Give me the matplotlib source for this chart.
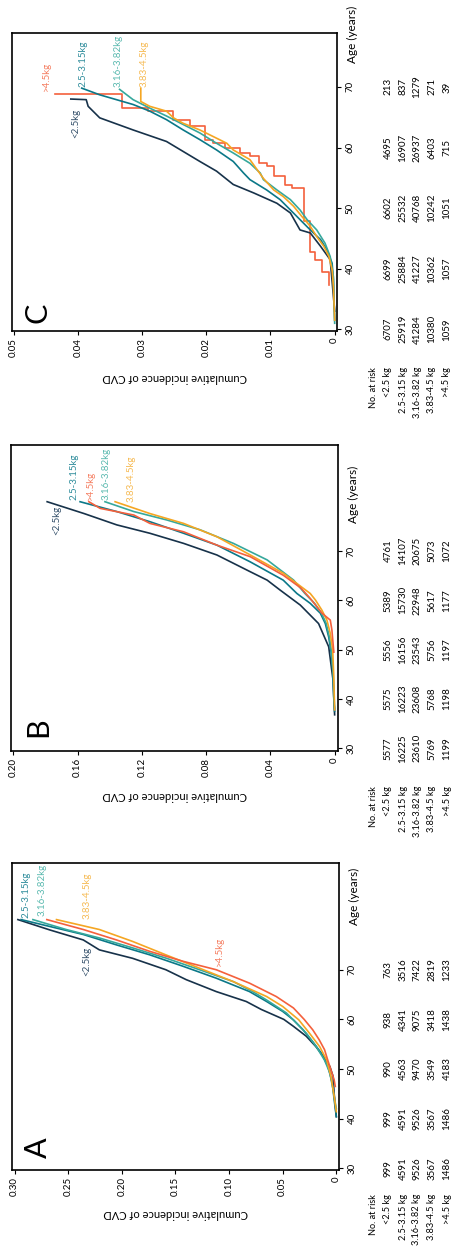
import matplotlib
matplotlib.use("Agg")
import matplotlib.pyplot as plt
from matplotlib.transforms import blended_transform_factory

plt.rcParams['font.family'] = ['Lato', 'DejaVu Sans']

# ---------------- data ----------------
groups = ["<2.5kg", "2.5-3.15kg", "3.16-3.82kg", "3.83-4.5kg", ">4.5kg"]
risk_labels = ["<2.5 kg", "2.5-3.15 kg", "3.16-3.82 kg", "3.83-4.5 kg", ">4.5 kg"]
risk_ages = [30, 40, 50, 60, 70]

# Panel A
A_lt25_age = [40.4, 45.0, 48.5, 50.5, 52.5, 54.5, 56.6, 58.6, 60.0, 62.0, 63.6, 65.6, 68.0, 70.0, 72.3, 74.0, 76.0, 78.0, 80.1]
A_lt25_inc = [0.0, 0.002, 0.003, 0.006, 0.012, 0.019, 0.028, 0.040, 0.049, 0.070, 0.084, 0.112, 0.140, 0.159, 0.190, 0.221, 0.236, 0.267, 0.297]
A_g1_age = [40.4, 43.8, 47.1, 50.5, 53.2, 55.5, 57.9, 59.9, 61.6, 63.6, 65.6, 68.3, 70.7, 73.0, 75.0, 77.1, 78.7, 80.1]
A_g1_inc = [0.0, 0.002, 0.0037, 0.0078, 0.014, 0.022, 0.031, 0.040, 0.050, 0.065, 0.081, 0.112, 0.143, 0.174, 0.205, 0.236, 0.267, 0.294]
A_g2_age = [42.0, 45.8, 49.2, 51.8, 54.5, 57.2, 59.2, 61.3, 63.9, 65.6, 67.6, 70.0, 72.35, 74.4, 76.4, 78.1, 80.1]
A_g2_inc = [0.0, 0.003, 0.006, 0.011, 0.0187, 0.028, 0.037, 0.0466, 0.065, 0.078, 0.096, 0.1275, 0.159, 0.190, 0.221, 0.252, 0.283]
A_g3_age = [41.4, 44.5, 48.5, 51.8, 54.5, 57.2, 59.9, 62.6, 64.6, 67.6, 70.3, 73.0, 75.7, 78.1, 80.1]
A_g3_inc = [0.0, 0.002, 0.005, 0.009, 0.0155, 0.025, 0.035, 0.050, 0.065, 0.096, 0.1275, 0.159, 0.190, 0.221, 0.261]
A_gt45_age = [46.5, 47.8, 49.8, 51.8, 53.9, 55.9, 57.9, 60.0, 62.3, 64.6, 67.3, 70.0, 71.7, 73.7, 76.0, 78.1, 80.1]
A_gt45_inc = [0.001, 0.002, 0.005, 0.008, 0.011, 0.016, 0.022, 0.030, 0.040, 0.056, 0.081, 0.112, 0.143, 0.174, 0.205, 0.236, 0.270]
A_risk = [[999, 999, 990, 938, 763],
          [4591, 4591, 4563, 4341, 3516],
          [9526, 9526, 9470, 9075, 7422],
          [3567, 3567, 3549, 3418, 2819],
          [1486, 1486, 4183, 1438, 1233]]

# Panel B
B_lt25_age = [36.8, 43.85, 50.6, 55.3, 59.05, 62.1, 64.1, 65.8, 69.2, 71.55, 73.6, 75.3, 77.6, 80.0]
B_lt25_inc = [0.0, 0.001, 0.0037, 0.010, 0.0214, 0.034, 0.042, 0.0525, 0.0733, 0.094, 0.115, 0.1356, 0.156, 0.179]
B_g1_age = [37.5, 40.5, 45.2, 49.3, 52.6, 55.3, 57.4, 59.4, 61.4, 64.1, 67.8, 71.2, 73.6, 75.95, 78.0, 80.0]
B_g1_inc = [0.0, 0.0006, 0.001, 0.0021, 0.0037, 0.0058, 0.0089, 0.0152, 0.0235, 0.032, 0.0525, 0.0733, 0.094, 0.115, 0.1356, 0.1585]
B_g2_age = [38.0, 41.8, 45.2, 49.3, 52.6, 55.3, 57.4, 59.4, 61.4, 64.1, 68.2, 71.55, 74.3, 76.3, 78.0, 80.0]
B_g2_inc = [0.0, 0.0005, 0.0009, 0.0019, 0.0033, 0.0052, 0.0082, 0.0125, 0.0185, 0.0255, 0.042, 0.063, 0.0837, 0.1045, 0.125, 0.143]
B_g3_age = [37.8, 45.2, 49.9, 53.3, 56.0, 58.0, 60.1, 61.4, 65.5, 69.2, 72.9, 75.6, 77.6, 80.0]
B_g3_inc = [0.0, 0.0006, 0.0012, 0.0027, 0.0048, 0.0079, 0.012, 0.0152, 0.032, 0.0525, 0.0733, 0.094, 0.115, 0.1367]
B_gt45_age = [49.5, 54.0, 56.0, 57.4, 60.4, 62.5, 65.1, 68.85, 71.2, 73.9, 75.6, 77.3, 78.65, 80.0]
B_gt45_inc = [0.0005, 0.0017, 0.0027, 0.0079, 0.0152, 0.021, 0.032, 0.0525, 0.0733, 0.094, 0.115, 0.125, 0.146, 0.153]
B_risk = [[5577, 5575, 5556, 5389, 4761],
          [16225, 16223, 16156, 15730, 14107],
          [23610, 23608, 23543, 22948, 20675],
          [5769, 5768, 5756, 5617, 5073],
          [1199, 1198, 1197, 1177, 1072]]

# Panel C
C_lt25_age = [33.0, 41.5, 43.7, 45.9, 46.4, 49.2, 50.8, 52.5, 53.9, 56.1, 57.7, 61.0, 62.9, 64.9, 66.8, 67.9, 68.0]
C_lt25_inc = [0.0, 0.0007, 0.0022, 0.0038, 0.0054, 0.0069, 0.009, 0.0126, 0.0158, 0.0184, 0.021, 0.0262, 0.0314, 0.0366, 0.0384, 0.0387, 0.0411]
C_g1_age = [31.5, 38.2, 40.9, 43.1, 44.8, 46.4, 48.1, 49.7, 51.4, 53.0, 54.7, 55.8, 57.7, 59.6, 61.3, 62.9, 64.6, 66.0, 67.1, 67.9, 68.7, 69.8]
C_g1_inc = [0.0, 0.0002, 0.0004, 0.0012, 0.0022, 0.0038, 0.0054, 0.0069, 0.0085, 0.0106, 0.0132, 0.0142, 0.0158, 0.0184, 0.021, 0.0236, 0.0262, 0.0288, 0.0314, 0.034, 0.0366, 0.0394]
C_g2_age = [31.0, 38.7, 42.0, 44.2, 46.4, 48.1, 49.7, 51.4, 53.0, 54.7, 55.8, 57.4, 59.1, 60.7, 62.4, 63.8, 65.2, 66.5, 67.9, 69.6]
C_g2_inc = [0.0, 0.0002, 0.0007, 0.0015, 0.0028, 0.0043, 0.0054, 0.0069, 0.009, 0.0111, 0.0116, 0.0132, 0.0158, 0.0184, 0.021, 0.0236, 0.0262, 0.0288, 0.0314, 0.0335]
C_g3_age = [31.5, 37.1, 39.8, 42.0, 43.7, 45.3, 47.0, 48.6, 50.3, 51.9, 53.0, 54.9, 58.0, 59.6, 60.7, 61.8, 62.9, 64.0, 64.9, 66.0, 66.8, 67.6, 69.8]
C_g3_inc = [0.0, 0.0002, 0.0004, 0.0009, 0.0017, 0.0028, 0.0038, 0.0051, 0.0064, 0.008, 0.0095, 0.0111, 0.0132, 0.0158, 0.0168, 0.0189, 0.021, 0.0236, 0.0251, 0.0262, 0.0288, 0.0302, 0.0302]
C_gt45_age = [37.33, 39.53, 41.46, 42.84, 47.80, 53.31, 53.86, 55.23, 56.89, 57.44, 58.54, 59.09, 59.92, 60.74, 61.29, 63.50, 64.60, 65.98, 66.53, 68.90]
C_gt45_inc = [0.00094, 0.00198, 0.00302, 0.0039, 0.00484, 0.00666, 0.0077, 0.00952, 0.01056, 0.01186, 0.01316, 0.01472, 0.01707, 0.01889, 0.02019, 0.02253, 0.02513, 0.02903, 0.0332, 0.0436]
C_risk = [[6707, 6699, 6602, 4695, 213],
          [25919, 25884, 25532, 16907, 837],
          [41284, 41227, 40768, 26937, 1279],
          [10380, 10362, 10242, 6403, 271],
          [1059, 1057, 1051, 715, 39]]

# ---------------- styling ----------------
line_colors = ["#17324a", "#0b7888", "#36a89c", "#f5a623", "#f4603c"]
text_colors = ["#34506a", "#2f8d9c", "#5bbab0", "#f6bb55", "#f57f62"]

W, H = 454, 1249
fig = plt.figure(figsize=(W / 100, H / 100), dpi=100)
fig.patch.set_facecolor("white")

FS_TICK = 7
FS_ROW = 6.6
FS_LAB = 8
FS_CURVE = 7


def make_axes(left, top, right, bottom):
    return fig.add_axes([left / W, 1 - bottom / H, (right - left) / W, (bottom - top) / H])


panels = [
    dict(letter="C", box=(12, 33, 337, 331), xlim=(0.05026, -0.00036), ylim=(29.72, 78.9),
         xticks=[0, 0.01, 0.02, 0.03, 0.04, 0.05], xticklabels=["0", "0.01", "0.02", "0.03", "0.04", "0.05"],
         series=[(C_lt25_age, C_lt25_inc), (C_g1_age, C_g1_inc), (C_g2_age, C_g2_inc), (C_g3_age, C_g3_inc), (C_gt45_age, C_gt45_inc)],
         step_last=True, risk=C_risk, risk_top=367, ylab_y=377, age_lab_frac=0.994, letter_pos=(0.08, 0.06),
         labels=[(0.0403, 61.6), (0.0392, 70.0), (0.0337, 70.0), (0.0297, 70.0), (0.0449, 69.3)]),
    dict(letter="B", box=(11, 445, 338, 751), xlim=(0.2015, -0.0021), ylim=(29.46, 91.5),
         xticks=[0, 0.04, 0.08, 0.12, 0.16, 0.20], xticklabels=["0", "0.04", "0.08", "0.12", "0.16", "0.20"],
         series=[(B_lt25_age, B_lt25_inc), (B_g1_age, B_g1_inc), (B_g2_age, B_g2_inc), (B_g3_age, B_g3_inc), (B_gt45_age, B_gt45_inc)],
         step_last=False, risk=B_risk, risk_top=786, ylab_y=795, age_lab_frac=0.84, letter_pos=(0.083, 0.078),
         labels=[(0.173, 73.2), (0.162, 80.3), (0.142, 80.3), (0.127, 80.0), (0.152, 80.3)]),
    dict(letter="A", box=(12, 863, 339, 1170), xlim=(0.3025, -0.0025), ylim=(29.66, 91.5),
         xticks=[0, 0.05, 0.10, 0.15, 0.20, 0.25, 0.30], xticklabels=["0", "0.05", "0.10", "0.15", "0.20", "0.25", "0.30"],
         series=[(A_lt25_age, A_lt25_inc), (A_g1_age, A_g1_inc), (A_g2_age, A_g2_inc), (A_g3_age, A_g3_inc), (A_gt45_age, A_gt45_inc)],
         step_last=False, risk=A_risk, risk_top=1194, ylab_y=1213, age_lab_frac=0.891, letter_pos=(0.08, 0.072),
         labels=[(0.2326, 68.7), (0.289, 80.4), (0.274, 80.75), (0.2326, 80.2), (0.109, 70.7)]),
]

risk_cols_px = [388, 403, 417, 432, 447]
header_px = 373

for p in panels:
    left, top, right, bottom = p["box"]
    ax = make_axes(left, top, right, bottom)
    wpx = right - left
    hpx = bottom - top

    order = [4, 0, 1, 2, 3] if p["letter"] == "C" else [0, 1, 2, 3, 4]
    for i in order:
        ages, inc = p["series"][i]
        if p["step_last"] and i == 4:
            ax.plot(inc, ages, color=line_colors[i], lw=1.2, drawstyle="steps-pre", zorder=2)
        else:
            ax.plot(inc, ages, color=line_colors[i], lw=1.2, zorder=3)

    ax.set_xlim(*p["xlim"])
    ax.set_ylim(*p["ylim"])
    ax.set_xticks(p["xticks"])
    ax.set_xticklabels(p["xticklabels"])
    ax.set_yticks(risk_ages)
    ax.set_yticklabels([str(a) for a in risk_ages])
    ax.yaxis.tick_right()
    ax.tick_params(axis="x", direction="out", length=3, width=0.8, labelsize=FS_TICK, labelrotation=90, pad=2)
    ax.tick_params(axis="y", direction="out", length=3, width=0.8, labelsize=FS_TICK, labelrotation=90, pad=3)
    for lbl in ax.get_yticklabels():
        lbl.set_va("center")
    for sp in ax.spines.values():
        sp.set_linewidth(1.2)
        sp.set_color("black")

    # curve labels
    for i, (lx, ly) in enumerate(p["labels"]):
        ax.text(lx, ly, groups[i], rotation=90, ha="center", va="bottom",
                fontsize=FS_CURVE, color=text_colors[i], zorder=5)

    # panel letter
    ax.text(p["letter_pos"][0], p["letter_pos"][1], p["letter"], transform=ax.transAxes,
            rotation=90, ha="center", va="center", fontsize=22, color="black")

    # axis labels
    ax.text(0.5, (bottom - p["ylab_y"]) / hpx, "Cumulative incidence of CVD", transform=ax.transAxes,
            rotation=180, ha="center", va="center", fontsize=FS_LAB)
    ax.text(1 + 15 / wpx, p["age_lab_frac"], "Age (years)", transform=ax.transAxes,
            rotation=90, ha="center", va="center", fontsize=FS_LAB + 0.5)

    # number at risk table
    trans = blended_transform_factory(ax.transAxes, ax.transData)
    ytop = (bottom - p["risk_top"]) / hpx
    ax.text((header_px - left) / wpx, ytop, "No. at risk", transform=ax.transAxes,
            rotation=90, ha="center", va="top", fontsize=FS_ROW, clip_on=False)
    for r, row in enumerate(p["risk"]):
        xf = (risk_cols_px[r] - left) / wpx
        ax.text(xf, ytop, risk_labels[r], transform=ax.transAxes,
                rotation=90, ha="center", va="top", fontsize=FS_ROW, clip_on=False)
        for a, v in zip(risk_ages, row):
            ax.text(xf, a, str(v), transform=trans, rotation=90, ha="center", va="center",
                    fontsize=FS_TICK, clip_on=False)

fig.savefig("out.png", dpi=100, facecolor="white")
